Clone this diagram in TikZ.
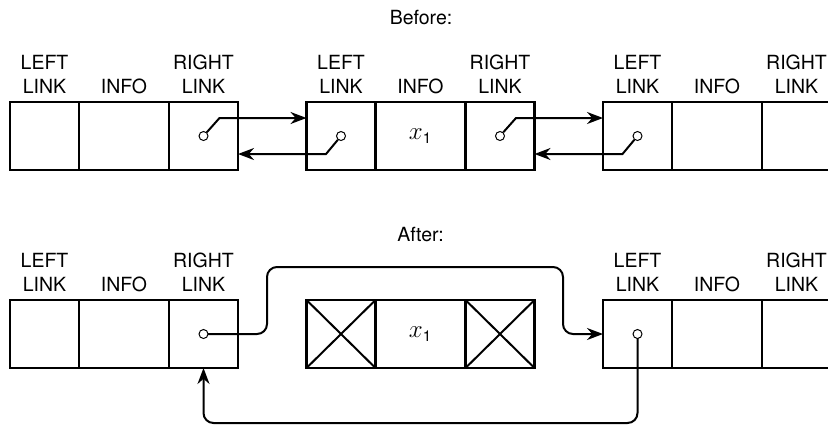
\documentclass[tikz,border=0pt]{standalone}
\usepackage{fix-cm}
\usepackage{fontspec}
\setmainfont{TeX Gyre Heros}
\usetikzlibrary{positioning,arrows.meta}

\tikzset{
  field/.style={draw, line width=1.4pt, minimum height=34pt, inner sep=0pt, outer sep=0pt},
  linkf/.style={field, minimum width=34.5pt},
  infof/.style={field, minimum width=45pt},
  hdr/.style={anchor=south, inner sep=0pt, align=center, yshift=4pt},
  ptr/.style={line width=1pt, -{Stealth[length=8pt,width=6pt]}},
  dot/.style={circle, draw, fill=white, line width=0.5pt, minimum size=4.5pt, inner sep=0pt},
}
\newcommand{\xone}{\fontsize{12.5pt}{14pt}\selectfont$x_{\mbox{\fontsize{7.5pt}{8pt}\selectfont 1}}$}

\begin{document}
\begin{tikzpicture}[x=0.5pt, y=0.5pt,
    every node/.style={font=\fontsize{9.75pt}{11.85pt}\selectfont}]
    \useasboundingbox (0,0) rectangle (828,425);
    \clip (0,0) rectangle (828,425);

    \node[anchor=base] (before) at (421,401) {Before:};
    \node[anchor=base] (after) at (420.5,183.3) {After:};

    % three fields per list node: l = left link, i = info, r = right link
    \foreach \n/\x/\y in {a/10/289, b/306.5/289, c/603/289, d/10/91, e/306.5/91, f/603/91} {
        \node[linkf, anchor=west] (\n l) at (\x,\y) {};
        \node[infof, right=0pt of \n l] (\n i) {};
        \node[linkf, right=0pt of \n i] (\n r) {};
    }
    \foreach \n in {a,b,c,d,f} {
        \node[hdr] (\n lh) at (\n l.north) {LEFT\\LINK};
        \node[hdr] (\n ih) at (\n i.north) {INFO};
        \node[hdr] (\n rh) at (\n r.north) {RIGHT\\LINK};
    }
    \node (bx) at (bi) {\xone};
    \node (ex) at (ei) {\xone};

    % the deleted node: both links crossed out
    \foreach \c in {el,er}
        \draw[line width=1pt] (\c.north west) -- (\c.south east) (\c.north east) -- (\c.south west);

    % before: links in both directions
    \node[dot] (p1) at (ar) {};
    \node[dot] (p2) at (bl) {};
    \node[dot] (p3) at (br) {};
    \node[dot] (p4) at (cl) {};
    \draw[ptr] (p1) -- ++(8pt,9pt) coordinate (k1) -- (k1 -| bl.west);
    \draw[ptr] (p2) -- ++(-7.5pt,-9pt) coordinate (k2) -- (k2 -| ar.east);
    \draw[ptr] (p3) -- ++(8pt,9pt) coordinate (k3) -- (k3 -| cl.west);
    \draw[ptr] (p4) -- ++(-7.5pt,-9pt) coordinate (k4) -- (k4 -| br.east);

    % after: links go round the deleted node
    \coordinate (up1) at ([shift={(14.5pt,16.5pt)}]dr.north east);
    \coordinate (up2) at ([shift={(-20pt,16.5pt)}]fl.north west);
    \coordinate (dn) at ([yshift=-27.5pt]fl.south);
    \draw[ptr, rounded corners=5pt] (dr.center) -| (up1) -- (up2) |- (fl.west);
    \draw[ptr, rounded corners=5pt] (fl.center) -- (dn) -| (dr.south);
    \node[dot] (q1) at (dr) {};
    \node[dot] (q2) at (fl) {};
\end{tikzpicture}
\end{document}
